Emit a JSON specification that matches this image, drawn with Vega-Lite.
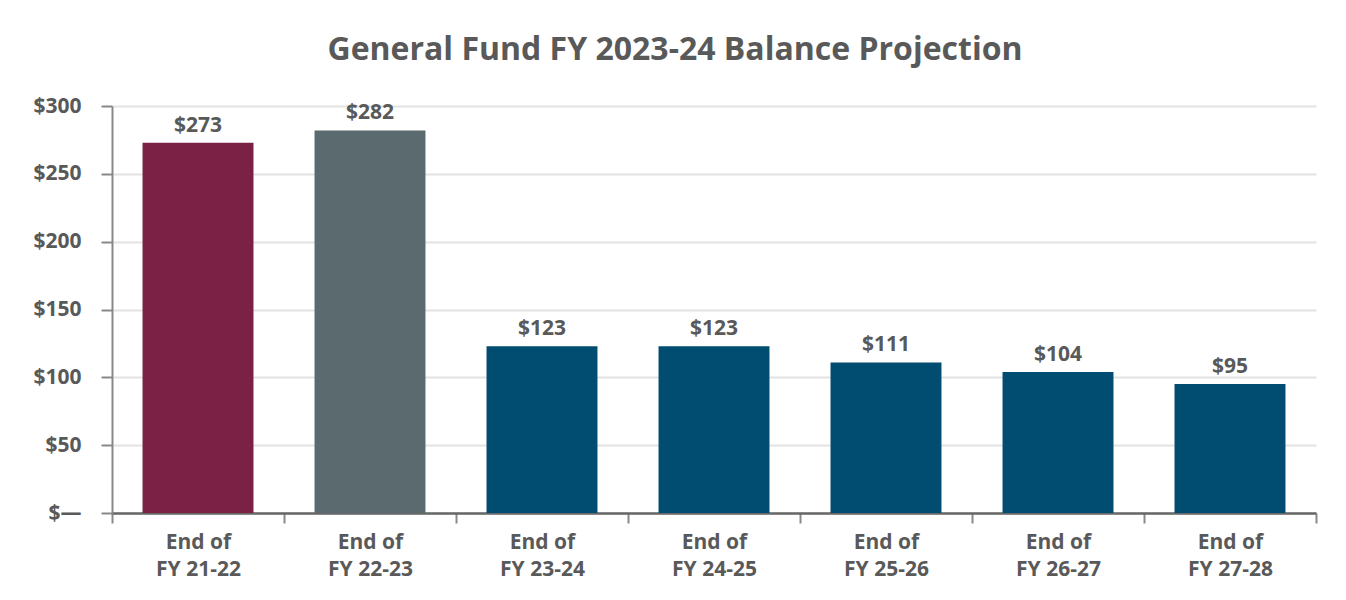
{
  "$schema": "https://vega.github.io/schema/vega-lite/v6.json",
  "width": 1204,
  "height": 407,
  "padding": {"left": 32, "top": 34, "right": 24, "bottom": 4},
  "background": "white",
  "title": {
    "text": "General Fund FY 2023-24 Balance Projection",
    "font": "Open Sans",
    "fontSize": 32,
    "fontWeight": "bold",
    "color": "#595959",
    "anchor": "middle",
    "frame": "bounds",
    "offset": 28
  },
  "data": {
    "values": [
      {"period": "FY 21-22", "balance": 273, "kind": "actual"},
      {"period": "FY 22-23", "balance": 282, "kind": "estimate"},
      {"period": "FY 23-24", "balance": 123, "kind": "projection"},
      {"period": "FY 24-25", "balance": 123, "kind": "projection"},
      {"period": "FY 25-26", "balance": 111, "kind": "projection"},
      {"period": "FY 26-27", "balance": 104, "kind": "projection"},
      {"period": "FY 27-28", "balance": 95, "kind": "projection"}
    ]
  },
  "encoding": {
    "x": {
      "field": "period",
      "type": "nominal",
      "sort": null,
      "scale": {"paddingInner": 0, "paddingOuter": 0},
      "axis": {
        "title": null,
        "labelAngle": 0,
        "labelExpr": "isValid(datum.value) && datum.value != '' ? ['End of', datum.value] : ''",
        "labelFont": "Open Sans",
        "labelFontSize": 21,
        "labelFontWeight": "bold",
        "labelColor": "#595959",
        "labelLineHeight": 27,
        "labelPadding": 8,
        "tickBand": "extent",
        "tickSize": 10,
        "tickColor": "#888888",
        "tickWidth": 2,
        "domainColor": "#666666",
        "domainWidth": 2.5,
        "grid": false
      }
    },
    "y": {
      "field": "balance",
      "type": "quantitative",
      "scale": {"domain": [0, 300]},
      "axis": {
        "title": null,
        "values": [0, 50, 100, 150, 200, 250, 300],
        "labelExpr": "datum.value == 0 ? '$\u2014' : '$' + datum.value",
        "labelFont": "Open Sans",
        "labelFontSize": 21,
        "labelFontWeight": "bold",
        "labelColor": "#595959",
        "labelPadding": 20,
        "tickSize": 11,
        "tickColor": "#888888",
        "tickWidth": 2,
        "domainColor": "#888888",
        "domainWidth": 2,
        "gridColor": "#e3e3e3",
        "gridWidth": 2
      }
    }
  },
  "layer": [
    {
      "mark": {"type": "bar", "width": {"band": 0.645}},
      "encoding": {
        "color": {
          "field": "kind",
          "type": "nominal",
          "legend": null,
          "scale": {
            "domain": ["actual", "estimate", "projection"],
            "range": ["#7A2145", "#5A6A6E", "#004D71"]
          }
        }
      }
    },
    {
      "mark": {
        "type": "text",
        "baseline": "bottom",
        "dy": -7,
        "font": "Open Sans",
        "fontSize": 21,
        "fontWeight": "bold",
        "color": "#595959"
      },
      "encoding": {
        "text": {"field": "balance", "type": "quantitative", "format": "$d"}
      }
    }
  ],
  "config": {"view": {"stroke": null}}
}
